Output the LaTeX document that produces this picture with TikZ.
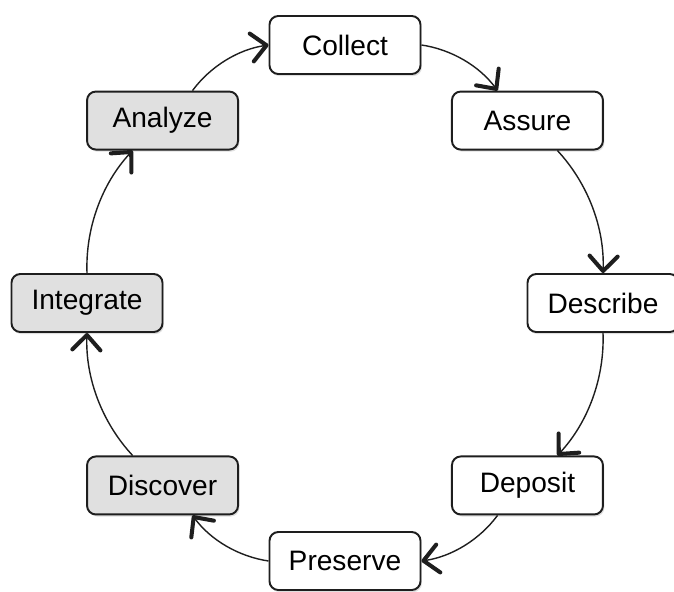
\documentclass[tikz,border=0pt]{standalone}
\usepackage{fontspec}
\setmainfont{Liberation Sans}
\usepackage{tikz}
\usetikzlibrary{arrows.meta, shadows}
\definecolor{mydark}{RGB}{30,30,30}
\definecolor{mygray}{RGB}{224,224,224}
\tikzset{
  stage/.style={rectangle, draw=mydark, fill=white,
    minimum width=3.02cm, minimum height=1.16cm,
    font=\fontsize{16}{19}\selectfont, rounded corners=5pt, line width=1.1pt,
    drop shadow={shadow xshift=0.8pt, shadow yshift=-1.2pt, opacity=0.25}},
  graystage/.style={stage, fill=mygray},
  arrow/.style={-{Straight Barb[length=8.5pt, width=16pt, line width=2.3pt, round]},
    line width=0.8pt, color=mydark},
  cycle/.style={arrow, bend left=22.5, looseness=0.88}
}

\begin{document}
\begin{tikzpicture}
  \useasboundingbox (0,0) rectangle (13.48,11.82);

  % Stages round the cycle
  \node[stage]     (collect)   at (6.9,10.92)    {Collect};
  \node[stage]     (assure)    at (10.549,9.409) {Assure};
  \node[stage]     (describe)  at (12.06,5.76)   {Describe};
  \node[stage]     (deposit)   at (10.549,2.111) {Deposit};
  \node[stage]     (preserve)  at (6.9,0.6)      {Preserve};
  \node[graystage] (discover)  at (3.251,2.111)  {Discover};
  \node[graystage] (integrate) at (1.74,5.76)    {Integrate};
  \node[graystage] (analyze)   at (3.251,9.409)  {Analyze};

  % Cycle arrows
  \foreach \a/\b in {collect/assure, assure/describe, describe/deposit,
    deposit/preserve, preserve/discover, discover/integrate,
    integrate/analyze, analyze/collect}
    \draw[cycle] (\a) to (\b);
\end{tikzpicture}
\end{document}
